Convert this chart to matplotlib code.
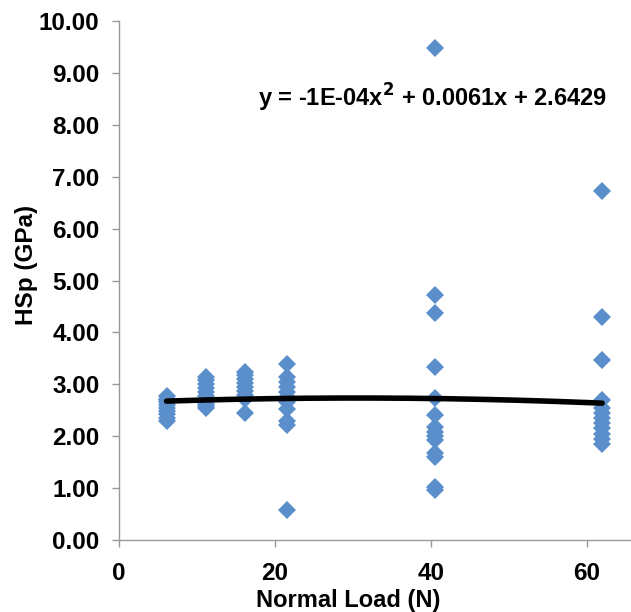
import numpy as np
import matplotlib
matplotlib.use("Agg")
import matplotlib.pyplot as plt
from matplotlib.ticker import FormatStrFormatter

plt.rcParams['font.family'] = ['Liberation Sans', 'DejaVu Sans']
plt.rcParams['font.weight'] = 'bold'

# Normal load groups (N) and hardness values (GPa)
load_6 = [2.30, 2.36, 2.42, 2.48, 2.55, 2.60, 2.66, 2.72, 2.78, 2.70]
load_11 = [2.55, 2.62, 2.70, 2.78, 2.85, 2.92, 3.00, 3.08, 3.15, 2.58]
load_16 = [2.45, 2.72, 2.80, 2.88, 2.95, 3.02, 3.10, 3.18, 3.24]
load_21 = [0.58, 2.22, 2.30, 2.52, 2.65, 2.75, 2.85, 2.95, 3.05, 3.15, 3.40]
load_40 = [9.48, 4.72, 4.37, 3.33, 2.74, 2.41, 2.18, 2.08, 2.00, 1.93, 1.68, 1.60, 1.02, 0.97]
load_61 = [6.72, 4.30, 3.47, 2.70, 2.55, 2.45, 2.35, 2.25, 2.15, 2.05, 1.95, 1.85]
group_x = [6.1, 11.2, 16.2, 21.5, 40.6, 62.0]
groups = [load_6, load_11, load_16, load_21, load_40, load_61]

# polynomial trendline coefficients (as shown on chart)
fit_coef = [-1e-4, 0.0061, 2.6429]

x = np.concatenate([[gx] * len(g) for gx, g in zip(group_x, groups)])
y = np.concatenate(groups)

fig = plt.figure(figsize=(6.31, 6.12), dpi=100)
ax = fig.add_axes([0.1886, 0.1176, 0.8114, 0.8481])

ax.plot(x, y, linestyle='none', marker='D', markersize=8.8,
        color='#5b8fcc', markeredgewidth=0, zorder=2)

# trendline over the data range
xf = np.linspace(min(group_x), max(group_x), 200)
ax.plot(xf, np.polyval(fit_coef, xf), color='black', lw=4, zorder=3,
        solid_capstyle='round')

eq = r'y = -1E-04x$^{\mathbf{2}}$ + 0.0061x + 2.6429'
ax.text(0.272, 0.835, eq, transform=ax.transAxes, fontsize=17,
        fontweight='bold')

ax.set_xlim(0, 65.7)
ax.set_ylim(0, 10)
ax.set_xticks([0, 20, 40, 60])
ax.set_yticks(np.arange(0, 11, 1))
ax.yaxis.set_major_formatter(FormatStrFormatter('%.2f'))

for s in ['top', 'right']:
    ax.spines[s].set_visible(False)
for s in ['left', 'bottom']:
    ax.spines[s].set_color('#999999')
    ax.spines[s].set_linewidth(1)
ax.tick_params(axis='both', colors='#999999', length=5, width=1,
               labelcolor='black', labelsize=17.5)
ax.tick_params(axis='x', pad=11)
ax.tick_params(axis='y', pad=9)
for lab in ax.get_xticklabels() + ax.get_yticklabels():
    lab.set_fontweight('bold')

ax.set_xlabel('Normal Load (N)', fontsize=17, fontweight='bold')
ax.set_ylabel('HSp (GPa)', fontsize=17.5, fontweight='bold')
ax.xaxis.set_label_coords(0.447, -0.094)
ax.yaxis.set_label_coords(-0.158, 0.53)

fig.savefig('out.png', dpi=100)
